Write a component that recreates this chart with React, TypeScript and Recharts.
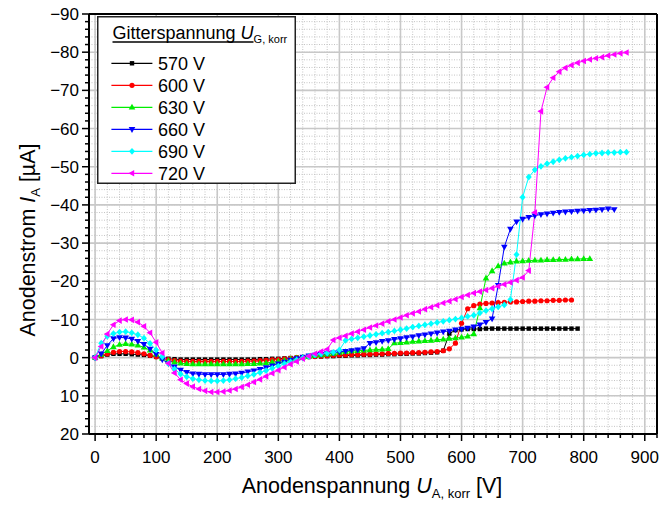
import { CartesianGrid, Legend, Line, LineChart, ReferenceLine, XAxis, YAxis } from 'recharts'

document.body.style.margin = '0'

const FONT = '"Liberation Sans", Arial, Helvetica, sans-serif'

/** Anodenspannung U_A,korr [V], Messpunkte */
const U_A = [
  0, 10, 20, 30, 40, 50, 60, 70, 80, 90, 100, 110, 120, 130, 140, 150, 160, 170, 180, 190,
  200, 210, 220, 230, 240, 250, 260, 270, 280, 290, 300, 310, 320, 330, 340, 350, 360, 370, 380, 390,
  400, 410, 420, 430, 440, 450, 460, 470, 480, 490, 500, 510, 520, 530, 540, 550, 560, 570, 580, 590,
  600, 610, 620, 630, 640, 650, 660, 670, 680, 690, 700, 710, 720, 730, 740, 750, 760, 770, 780, 790,
  800, 810, 820, 830, 840, 850, 860, 870,
]

/** Anodenstrom I_A [µA] je Gitterspannung */
const I_570 = [
  0, -0.4, -0.8, -1.0, -1.0, -1.0, -0.9, -0.8, -0.7, -0.5, -0.2, 0.1, 0.3, 0.4, 0.5, 0.5, 0.5, 0.5, 0.5, 0.5,
  0.5, 0.5, 0.5, 0.5, 0.5, 0.5, 0.5, 0.4, 0.4, 0.3, 0.3, 0.2, 0.1, 0, -0.1, -0.2, -0.3, -0.3, -0.4, -0.4,
  -0.5, -0.5, -0.6, -0.6, -0.7, -0.7, -0.8, -0.8, -0.9, -0.9, -1.0, -1.0, -1.1, -1.1, -1.2, -1.3, -1.4, -1.8, -6.3, -7.2,
  -7.4, -7.5, -7.5, -7.5, -7.6, -7.6, -7.6, -7.6, -7.6, -7.6, -7.6, -7.6, -7.6, -7.6, -7.6, -7.6, -7.6, -7.6, -7.6, -7.6,
]
const I_600 = [
  0, -0.5, -1.0, -1.4, -1.6, -1.6, -1.5, -1.3, -1.0, -0.6, -0.2, 0.2, 0.5, 0.8, 0.9, 1.0, 1.0, 1.0, 1.0, 1.0,
  1.0, 1.0, 1.0, 1.0, 1.0, 0.9, 0.9, 0.8, 0.7, 0.6, 0.5, 0.3, 0.2, 0, -0.1, -0.2, -0.3, -0.4, -0.5, -0.6,
  -0.7, -0.7, -0.8, -0.8, -0.9, -0.9, -1.0, -1.0, -1.1, -1.1, -1.2, -1.2, -1.3, -1.3, -1.4, -1.5, -1.6, -1.8, -2.3, -3.8,
  -9.0, -12.8, -13.6, -14.0, -14.2, -14.3, -14.4, -14.5, -14.6, -14.6, -14.7, -14.8, -14.8, -14.9, -14.9, -15.0, -15.0, -15.1, -15.1,
]
const I_630 = [
  0, -0.8, -1.8, -2.8, -3.4, -3.6, -3.5, -3.2, -2.7, -1.9, -0.9, 0.2, 0.8, 1.2, 1.5, 1.6, 1.7, 1.7, 1.7, 1.7,
  1.7, 1.7, 1.7, 1.7, 1.7, 1.6, 1.6, 1.5, 1.4, 1.2, 1.0, 0.7, 0.4, 0.1, -0.1, -0.3, -0.5, -0.7, -0.9, -1.1,
  -1.3, -1.5, -1.7, -1.8, -1.9, -2.0, -2.1, -2.2, -2.3, -3.8, -3.9, -4.0, -4.2, -4.3, -4.4, -4.5, -4.7, -4.8, -5.0, -5.1,
  -5.3, -5.6, -6.2, -13.0, -20.8, -22.7, -24.0, -24.7, -25.0, -25.2, -25.3, -25.4, -25.5, -25.5, -25.6, -25.6, -25.7, -25.7, -25.8, -25.8,
  -25.9, -25.9,
]
const I_660 = [
  0, -1.0, -3.2, -5.0, -5.3, -5.2, -4.9, -4.3, -3.5, -2.3, -0.9, 0.5, 1.5, 2.4, 3.2, 3.8, 4.2, 4.3, 4.4, 4.4,
  4.4, 4.4, 4.3, 4.2, 4.0, 3.7, 3.4, 3.0, 2.6, 2.1, 1.6, 1.1, 0.6, 0.2, -0.2, -0.5, -0.7, -0.9, -1.1, -1.3,
  -1.5, -1.7, -1.9, -2.1, -2.4, -3.8, -4.0, -4.3, -4.5, -4.8, -5.0, -5.3, -5.5, -5.8, -6.0, -6.3, -6.5, -6.8, -7.0, -7.3,
  -7.5, -7.8, -8.1, -8.6, -9.3, -10.2, -19.0, -29.0, -33.7, -35.6, -36.3, -36.8, -37.2, -37.5, -37.7, -37.9, -38.1, -38.2, -38.3, -38.4,
  -38.5, -38.6, -38.7, -38.8, -39.0, -38.8,
]
const I_690 = [
  0, -3.8, -5.6, -6.3, -6.7, -6.8, -6.5, -6.0, -5.1, -3.7, -2.0, -0.2, 1.5, 3.0, 4.3, 5.0, 5.5, 5.8, 6.0, 6.1,
  6.1, 6.0, 5.8, 5.5, 5.2, 4.8, 4.4, 3.9, 3.4, 2.8, 2.2, 1.6, 1.1, 0.6, 0.1, -0.3, -0.7, -1.0, -1.2, -1.4,
  -2.0, -4.5, -4.9, -5.2, -5.5, -5.8, -6.1, -6.4, -6.7, -7.0, -7.3, -7.6, -8.0, -8.3, -8.6, -8.9, -9.2, -9.5, -9.8, -10.1,
  -10.4, -10.8, -11.1, -11.7, -12.3, -12.8, -13.3, -13.8, -15.2, -27.0, -42.0, -47.3, -49.2, -50.1, -50.8, -51.3, -51.8, -52.2, -52.5, -52.8,
  -53.1, -53.3, -53.5, -53.6, -53.7, -53.7, -53.8, -53.8,
]
const I_720 = [
  0, -2.9, -6.2, -8.6, -9.7, -10.0, -9.9, -9.3, -8.2, -6.5, -4.0, -1.2, 1.5, 4.0, 5.8, 6.8, 7.6, 8.2, 8.7, 9.0,
  9.0, 8.9, 8.6, 8.2, 7.7, 7.1, 6.4, 5.7, 4.9, 4.1, 3.3, 2.5, 1.7, 1.0, 0.3, -0.4, -1.0, -1.6, -2.2, -4.6,
  -5.2, -5.7, -6.3, -6.8, -7.3, -7.9, -8.4, -8.9, -9.5, -10.0, -10.5, -11.1, -11.6, -12.1, -12.7, -13.2, -13.7, -14.3, -14.8, -15.3,
  -15.9, -16.4, -16.9, -17.3, -17.7, -18.2, -18.7, -19.2, -19.7, -20.3, -21.0, -22.8, -38.0, -64.5, -70.8, -73.3, -74.9, -75.9, -76.6, -77.2,
  -77.7, -78.1, -78.4, -78.7, -79.1, -79.4, -79.7, -79.9,
]

const X_MAJOR = [0, 100, 200, 300, 400, 500, 600, 700, 800, 900]
const Y_MAJOR = [-90, -80, -70, -60, -50, -40, -30, -20, -10, 0, 10, 20]
const X_MINOR_STEP = 20
const Y_MINOR_STEP = 2

const stepsBetween = (from: number, to: number, step: number) => {
  const out: number[] = []
  for (let v = from; v <= to + 1e-9; v += step) out.push(Math.round(v * 100) / 100)
  return out
}
const X_TICKS = stepsBetween(0, 920, X_MINOR_STEP)
const Y_TICKS = stepsBetween(-90, 20, Y_MINOR_STEP)

type Shape = 'square' | 'circle' | 'up' | 'down' | 'diamond' | 'left'

const SERIES: { name: string; color: string; shape: Shape; values: number[] }[] = [
  { name: '570 V', color: '#000000', shape: 'square', values: I_570 },
  { name: '600 V', color: '#ff0000', shape: 'circle', values: I_600 },
  { name: '630 V', color: '#00ee00', shape: 'up', values: I_630 },
  { name: '660 V', color: '#0000ff', shape: 'down', values: I_660 },
  { name: '690 V', color: '#00ffff', shape: 'diamond', values: I_690 },
  { name: '720 V', color: '#ff00ff', shape: 'left', values: I_720 },
]

function Marker({ cx, cy, shape, color }: { cx: number; cy: number; shape: Shape; color: string }) {
  if (cx == null || cy == null || Number.isNaN(cx) || Number.isNaN(cy)) return null
  const p = (pts: number[][]) => pts.map(([dx, dy]) => `${cx + dx},${cy + dy}`).join(' ')
  switch (shape) {
    case 'square':
      return <rect x={cx - 2.2} y={cy - 2.2} width={4.4} height={4.4} fill={color} />
    case 'circle':
      return <circle cx={cx} cy={cy} r={2.6} fill={color} />
    case 'up':
      return <polygon points={p([[0, -3.6], [3.3, 2.2], [-3.3, 2.2]])} fill={color} />
    case 'down':
      return <polygon points={p([[0, 3.6], [3.3, -2.2], [-3.3, -2.2]])} fill={color} />
    case 'diamond':
      return <polygon points={p([[0, -3.4], [3.0, 0], [0, 3.4], [-3.0, 0]])} fill={color} />
    default:
      return <polygon points={p([[-3.6, 0], [2.2, -3.3], [2.2, 3.3]])} fill={color} />
  }
}

// Origin schreibt echte Minuszeichen
const fmtTick = (v: number) => (v < 0 ? `\u2212${Math.abs(v)}` : String(v))

function XTick(props: any) {
  const { x, y, payload } = props
  const v = payload.value as number
  const major = v % 100 === 0
  return (
    <g>
      <line x1={x} x2={x} y1={y} y2={y + (major ? 7 : 4)} stroke="#000" strokeWidth={1.5} />
      {major && (
        <text x={x} y={y + 29} textAnchor="middle" fontSize={17} fontFamily={FONT} fill="#000">
          {v}
        </text>
      )}
    </g>
  )
}

function YTick(props: any) {
  const { x, y, payload } = props
  const v = payload.value as number
  const major = v % 10 === 0
  return (
    <g>
      <line x1={x} x2={x - (major ? 7 : 4)} y1={y} y2={y} stroke="#000" strokeWidth={1.5} />
      {major && (
        <text x={x - 10} y={y} dy="0.36em" textAnchor="end" fontSize={17} fontFamily={FONT} fill="#000">
          {fmtTick(v)}
        </text>
      )}
    </g>
  )
}

function XTitle() {
  return (
    <text x={372} y={493} textAnchor="middle" fontSize={21.5} fontFamily={FONT} fill="#000">
      Anodenspannung <tspan fontStyle="italic">U</tspan>
      <tspan fontSize={13} dy={5}>A, korr</tspan>
      <tspan dy={-5}> [V]</tspan>
    </text>
  )
}

function YTitle() {
  return (
    <text
      x={0}
      y={0}
      transform="translate(35, 240) rotate(-90)"
      textAnchor="middle"
      fontSize={21.5}
      fontFamily={FONT}
      fill="#000"
    >
      Anodenstrom <tspan fontStyle="italic">I</tspan>
      <tspan fontSize={13} dy={5}>A</tspan>
      <tspan dy={-5}> [µA]</tspan>
    </text>
  )
}

function LegendBox() {
  return (
    <svg width={199} height={168} style={{ display: 'block' }}>
      <rect x={0.75} y={0.75} width={197.5} height={166.5} fill="#ffffff" stroke="#222" strokeWidth={1.5} />
      <text x={15.5} y={23} fontSize={18} fontFamily={FONT} fill="#000">
        Gitterspannung <tspan fontStyle="italic">U</tspan>
        <tspan fontSize={11} dy={4}>G, korr</tspan>
      </text>
      <line x1={15.5} x2={156.5} y1={26} y2={26} stroke="#000" strokeWidth={1.3} />
      {SERIES.map((s, i) => {
        const cy = 47.3 + i * 22
        return (
          <g key={s.name}>
            <line x1={14.4} x2={55.4} y1={cy} y2={cy} stroke={s.color} strokeWidth={1.2} />
            <Marker cx={35} cy={cy} shape={s.shape} color={s.color} />
            <text x={61} y={cy + 6.5} fontSize={18} fontFamily={FONT} fill="#000">
              {s.name}
            </text>
          </g>
        )
      })}
    </svg>
  )
}

export default function App() {
  const seriesData = SERIES.map((s) => ({
    ...s,
    data: s.values.map((i, k) => ({ u: U_A[k], i })),
  }))

  return (
    <div style={{ width: 659, height: 506, background: '#ffffff' }}>
      <LineChart width={659} height={506} margin={{ top: 14, right: 2, bottom: 0, left: 0 }}>
        <CartesianGrid
          stroke="#c4c4c4"
          strokeWidth={1}
          strokeDasharray="1 1.5"
          horizontalValues={Y_TICKS}
          verticalValues={X_TICKS}
        />
        <CartesianGrid stroke="#c8c8c8" strokeWidth={1.6} horizontalValues={Y_MAJOR} verticalValues={X_MAJOR} />
        <XAxis
          dataKey="u"
          type="number"
          domain={[-10, 920]}
          allowDataOverflow
          ticks={X_TICKS}
          interval={0}
          height={72}
          tickSize={0}
          tickMargin={0}
          tickLine={false}
          tick={XTick}
          axisLine={{ stroke: '#000', strokeWidth: 2 }}
          label={{ content: () => <XTitle /> }}
        />
        <YAxis
          dataKey="i"
          type="number"
          domain={[-90, 20]}
          reversed
          allowDataOverflow
          ticks={Y_TICKS}
          interval={0}
          width={89}
          tickSize={0}
          tickMargin={0}
          tickLine={false}
          tick={YTick}
          axisLine={{ stroke: '#000', strokeWidth: 2 }}
          label={{ content: () => <YTitle /> }}
        />
        <ReferenceLine y={-90} stroke="#000" strokeWidth={2} />
        <ReferenceLine x={920} stroke="#000" strokeWidth={2} />
        {seriesData.map((s) => (
          <Line
            key={s.name}
            data={s.data}
            dataKey="i"
            name={s.name}
            type="linear"
            stroke={s.color}
            strokeWidth={1}
            isAnimationActive={false}
            dot={(p: any) => <Marker key={`${s.name}-${p.index}`} cx={p.cx} cy={p.cy} shape={s.shape} color={s.color} />}
            activeDot={false}
          />
        ))}
        <Legend
          layout="vertical"
          align="center"
          verticalAlign="middle"
          wrapperStyle={{ position: 'absolute', left: 97, top: 16, width: 199, height: 168 }}
          content={() => <LegendBox />}
        />
      </LineChart>
    </div>
  )
}
